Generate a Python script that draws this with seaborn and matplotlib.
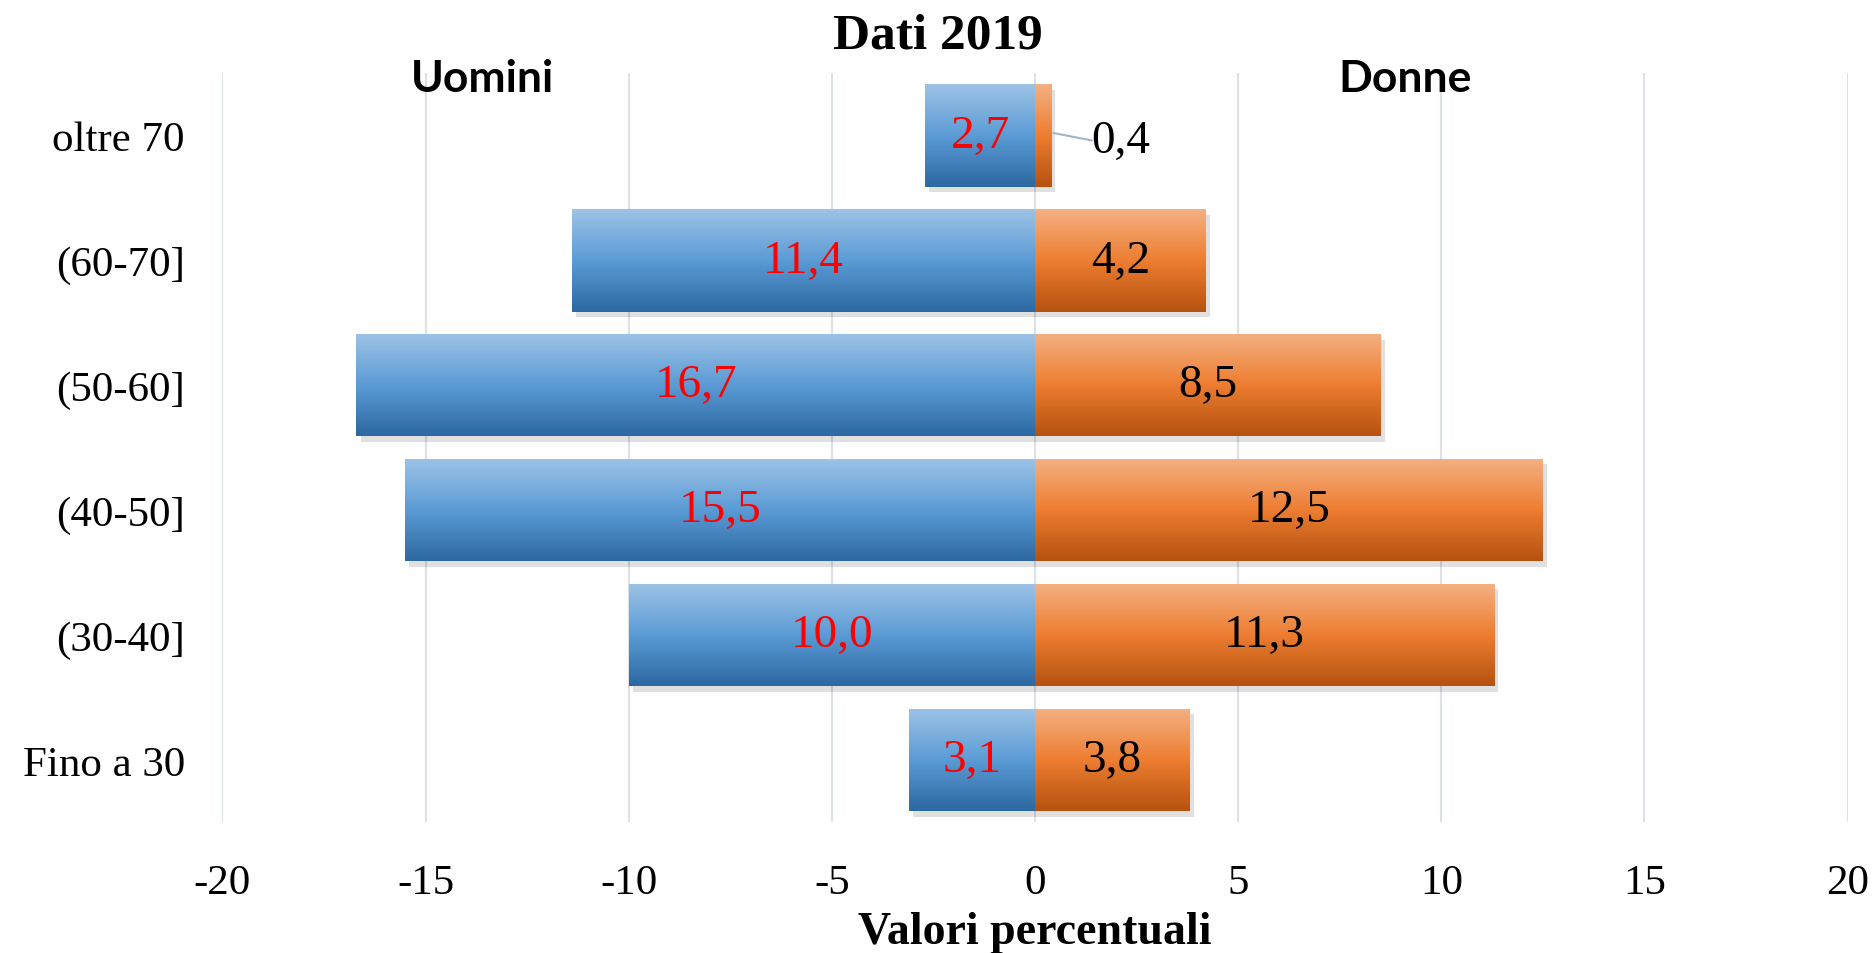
import matplotlib
matplotlib.use('Agg')
import matplotlib.pyplot as plt
import matplotlib.patheffects as pe
from matplotlib.colors import LinearSegmentedColormap
import numpy as np
import pandas as pd
import seaborn as sns

# data (top to bottom)
groups = ['oltre 70', '(60-70]', '(50-60]', '(40-50]', '(30-40]', 'Fino a 30']
uomini = [2.7, 11.4, 16.7, 15.5, 10.0, 3.1]
donne = [0.4, 4.2, 8.5, 12.5, 11.3, 3.8]
xticks = [-20, -15, -10, -5, 0, 5, 10, 15, 20]

df = pd.DataFrame({
    'group': groups * 2,
    'value': [-v for v in uomini] + donne,
    'sesso': ['Uomini'] * len(groups) + ['Donne'] * len(groups),
})

sns.set_style('white')
serif = ['Liberation Serif', 'DejaVu Serif']
sans = ['Lato', 'DejaVu Sans']
plt.rcParams['font.family'] = serif
plt.rcParams['text.color'] = 'black'
plt.rcParams['xtick.color'] = 'black'
plt.rcParams['ytick.color'] = 'black'
plt.rcParams['axes.labelcolor'] = 'black'

fig = plt.figure(figsize=(18.75, 9.54), dpi=100)
ax = fig.add_axes([0.1186, 0.137, 0.8668, 0.7854])

sns.barplot(data=df, x='value', y='group', hue='sesso', order=groups,
            palette={'Uomini': '#5B9BD5', 'Donne': '#ED7D31'},
            dodge=False, width=0.82, legend=False, ax=ax, zorder=3)

ax.set_xlim(-20, 20)
ax.set_ylim(len(groups) - 0.5, -0.5)

blue = LinearSegmentedColormap.from_list('b', ['#9DC3E6', '#5B9BD5', '#2C68A2'])
orange = LinearSegmentedColormap.from_list('o', ['#F4B183', '#ED7D31', '#B5520F'])
grad = np.linspace(0, 1, 256).reshape(-1, 1)

# gradient fill + soft shadow on each bar
for p in ax.patches:
    x0, y0 = p.get_x(), p.get_y()
    w, h = p.get_width(), p.get_height()
    if h == 0 or w == 0:
        continue
    cmap = blue if w < 0 else orange
    p.set_edgecolor('none')
    p.set_path_effects([pe.SimplePatchShadow(offset=(3, -4), shadow_rgbFace='#000000', alpha=0.12), pe.Normal()])
    im = ax.imshow(grad, cmap=cmap, aspect='auto', zorder=4,
                   extent=[x0, x0 + w, y0 + h, y0], origin='upper')
    im.set_clip_path(p)

ax.set_xlim(-20, 20)
ax.set_ylim(len(groups) - 0.5, -0.5)

# data labels
for i, v in enumerate(uomini):
    ax.text(-v / 2, i, f'{v:.1f}'.replace('.', ','), color='#FF0000', fontsize=34,
            ha='center', va='center', zorder=6, family=serif)
for i, v in enumerate(donne):
    lab = f'{v:.1f}'.replace('.', ',')
    if v < 1:
        ax.text(2.1, i + 0.04, lab, color='black', fontsize=34, ha='center', va='center', zorder=6, family=serif)
        ax.plot([v + 0.05, 1.4], [i - 0.02, i + 0.04], color='#A6B4C8', lw=1.5, zorder=5)
    else:
        ax.text(v / 2, i, lab, color='black', fontsize=34, ha='center', va='center', zorder=6, family=serif)

ax.set_xticks(xticks)
ax.set_xticklabels([str(t) for t in xticks])
ax.tick_params(axis='both', length=0, labelsize=31)
ax.tick_params(axis='x', pad=30)
ax.tick_params(axis='y', pad=27)
ax.xaxis.grid(True, color='#DCE1E8', lw=1.5, zorder=0)
ax.yaxis.grid(False)
ax.set_axisbelow(True)
sns.despine(ax=ax, left=True, bottom=True, top=True, right=True)

ax.set_ylabel('')
ax.set_xlabel('Valori percentuali', fontsize=33, fontweight='bold', labelpad=6, family=serif)
fig.suptitle('Dati 2019', fontsize=37, fontweight='bold', y=0.962, va='center', family=serif)

tr = ax.get_xaxis_transform()
ax.text(-13.6, 0.993, 'Uomini', transform=tr, fontsize=32, fontweight='bold',
        ha='center', va='center', family=sans, zorder=7)
ax.text(9.1, 0.993, 'Donne', transform=tr, fontsize=32, fontweight='bold',
        ha='center', va='center', family=sans, zorder=7)

fig.savefig('out.png', dpi=100)
